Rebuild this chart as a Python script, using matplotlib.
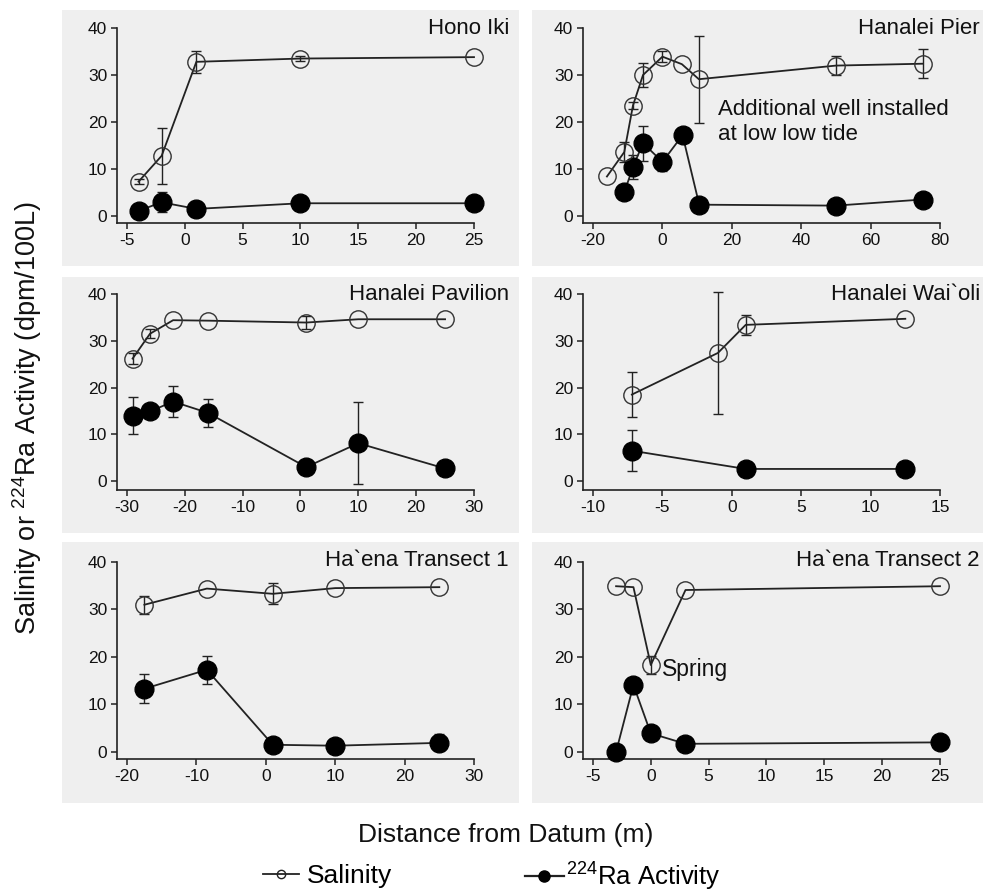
#!/usr/bin/env python
"""Salinity and 224Ra activity along six beach transects."""

import matplotlib

matplotlib.use("Agg")
import matplotlib.pyplot as plt
import numpy as np
from matplotlib.lines import Line2D
from matplotlib.patches import Rectangle

plt.rcParams["font.family"] = ["Liberation Sans", "DejaVu Sans"]
plt.rcParams["mathtext.fontset"] = "custom"
plt.rcParams["mathtext.rm"] = "Liberation Sans"
plt.rcParams["axes.unicode_minus"] = False

FIG_W, FIG_H = 993, 893

# per-site data: distance (m), salinity, 224Ra activity (dpm/100L) and error bars
SITES = ["Hono Iki", "Hanalei Pier", "Hanalei Pavilion",
         "Hanalei Wai`oli", "Ha`ena Transect 1", "Ha`ena Transect 2"]

hono_x = [-4, -2, 1, 10, 25]
hono_sal = [7.3, 12.8, 32.8, 33.5, 33.8]
hono_sal_err = [0.5, 6.0, 2.4, 0.5, 0]
hono_ra_x = [-4, -2, 1, 10, 25]
hono_ra = [1.1, 2.9, 1.5, 2.7, 2.7]
hono_ra_err = [0, 2.1, 1.7, 0, 0]

pier_x = [-16, -11, -8.5, -5.6, 0, 5.6, 10.5, 50, 75]
pier_sal = [8.4, 13.6, 23.5, 30.0, 33.9, 32.3, 29.1, 32.0, 32.4]
pier_sal_err = [0, 2.2, 0.8, 2.5, 1.2, 0, 9.3, 2.1, 3.1]
pier_ra_x = [-11, -8.5, -5.6, 0, 5.8, 10.6, 50, 75]
pier_ra = [5.0, 10.4, 15.5, 11.5, 17.2, 2.4, 2.2, 3.5]
pier_ra_err = [0, 2.6, 3.7, 2.0, 0, 1.3, 0, 0]

pav_x = [-29, -26, -22, -16, 1, 10, 25]
pav_sal = [26.2, 31.5, 34.4, 34.3, 33.9, 34.6, 34.6]
pav_sal_err = [1.2, 1.0, 0, 0, 1.3, 0, 0]
pav_ra_x = [-29, -26, -22, -16, 1, 10, 25]
pav_ra = [14.0, 14.9, 17.0, 14.6, 3.0, 8.1, 2.7]
pav_ra_err = [4.0, 1.0, 3.4, 3.0, 0, 8.8, 0]

wai_x = [-7.2, -1, 1, 12.5]
wai_sal = [18.5, 27.4, 33.4, 34.7]
wai_sal_err = [4.9, 13.0, 2.2, 0]
wai_ra_x = [-7.2, 1, 12.5]
wai_ra = [6.5, 2.6, 2.6]
wai_ra_err = [4.4, 0, 0]

t1_x = [-17.5, -8.5, 1, 10, 25]
t1_sal = [31.0, 34.4, 33.3, 34.5, 34.7]
t1_sal_err = [1.9, 0, 2.2, 0, 0]
t1_ra_x = [-17.5, -8.5, 1, 10, 25]
t1_ra = [13.3, 17.3, 1.5, 1.3, 1.9]
t1_ra_err = [3.1, 2.9, 0, 0, 1.8]

t2_x = [-3, -1.5, 0, 3, 25]
t2_sal = [34.9, 34.7, 18.3, 34.1, 34.9]
t2_sal_err = [0, 0, 1.8, 0, 0]
t2_ra_x = [-3, -1.5, 0, 3, 25]
t2_ra = [0.0, 14.1, 3.9, 1.7, 2.0]
t2_ra_err = [0, 0, 0, 0, 0]

X_TICKS = [
    [-5, 0, 5, 10, 15, 20, 25],
    [-20, 0, 20, 40, 60, 80],
    [-30, -20, -10, 0, 10, 20, 30],
    [-10, -5, 0, 5, 10, 15],
    [-20, -10, 0, 10, 20, 30],
    [-5, 0, 5, 10, 15, 20, 25],
]
X_LIMS = [(-5.86, 25), (-22.9, 80), (-31.7, 30), (-10.72, 15), (-21.45, 30), (-5.86, 25)]
Y_BOTTOM = [-1.5, -1.5, -1.9, -1.9, -1.5, -1.5]

SERIES = [
    (hono_x, hono_sal, hono_sal_err, hono_ra_x, hono_ra, hono_ra_err),
    (pier_x, pier_sal, pier_sal_err, pier_ra_x, pier_ra, pier_ra_err),
    (pav_x, pav_sal, pav_sal_err, pav_ra_x, pav_ra, pav_ra_err),
    (wai_x, wai_sal, wai_sal_err, wai_ra_x, wai_ra, wai_ra_err),
    (t1_x, t1_sal, t1_sal_err, t1_ra_x, t1_ra, t1_ra_err),
    (t2_x, t2_sal, t2_sal_err, t2_ra_x, t2_ra, t2_ra_err),
]

# layout in pixels
PANEL_COLS = [(62, 519), (532, 983)]
PANEL_ROWS = [(10, 266), (277, 533), (542, 803)]
AX_COLS = [(117, 474), (583, 940)]
AX_ROWS = [(28, 223), (294, 490), (562, 759)]
TITLE_INSET = [10, 3]


def fx(px):
    return px / FIG_W


def fy(py):
    return 1 - py / FIG_H


def draw_series(ax, x, y, err, filled):
    x = np.asarray(x, float)
    y = np.asarray(y, float)
    err = np.asarray(err, float)
    has = err > 0
    if has.any():
        ax.errorbar(x[has], y[has], yerr=err[has], fmt="none", ecolor="#222222",
                    elinewidth=1.0, capsize=3.5, capthick=1.0, zorder=2, clip_on=False)
    if filled:
        ax.plot(x, y, color="#222222", linewidth=1.3, marker="o", markersize=13.5,
                markerfacecolor="black", markeredgecolor="black", zorder=3, clip_on=False)
    else:
        ax.plot(x, y, color="#222222", linewidth=1.3, marker="o", markersize=12.5,
                markerfacecolor="none", markeredgecolor="#333333", markeredgewidth=1.0,
                zorder=3, clip_on=False)


def main():
    fig = plt.figure(figsize=(FIG_W / 100, FIG_H / 100), dpi=100)

    for i, site in enumerate(SITES):
        r, c = divmod(i, 2)
        px0, px1 = PANEL_COLS[c]
        py0, py1 = PANEL_ROWS[r]
        fig.patches.append(Rectangle((fx(px0), fy(py1)), fx(px1 - px0), (py1 - py0) / FIG_H,
                                     transform=fig.transFigure, facecolor="#efefef",
                                     edgecolor="none", zorder=-10))
        ax0, ax1 = AX_COLS[c]
        ay0, ay1 = AX_ROWS[r]
        ax = fig.add_axes([fx(ax0), fy(ay1), fx(ax1 - ax0), (ay1 - ay0) / FIG_H])
        ax.set_facecolor("none")

        sx, sy, se, rx, ry, re_ = SERIES[i]
        draw_series(ax, rx, ry, re_, filled=True)
        draw_series(ax, sx, sy, se, filled=False)

        ax.set_xlim(*X_LIMS[i])
        ax.set_ylim(Y_BOTTOM[i], 40)
        ax.set_xticks(X_TICKS[i])
        ax.set_yticks([0, 10, 20, 30, 40])
        for side in ("top", "right"):
            ax.spines[side].set_visible(False)
        for side in ("left", "bottom"):
            ax.spines[side].set_linewidth(1.2)
            ax.spines[side].set_color("#222222")
        ax.tick_params(direction="out", length=4, width=1.1, labelsize=12.5, pad=3,
                       color="#222222", labelcolor="#111111")

        fig.text(fx(px1 - TITLE_INSET[c]), fy(py0 + 18), site, ha="right", va="center",
                 fontsize=16, color="#111111")

        if site == "Hanalei Pier":
            ax.text(16, 20.1, "Additional well installed\nat low low tide", ha="left",
                    va="center", fontsize=16, color="#111111", linespacing=1.25)
        if site == "Ha`ena Transect 2":
            ax.text(1.0, 17.3, "Spring", ha="left", va="center", fontsize=16.5,
                    color="#111111")

    fig.text(fx(27), fy(418), "Salinity or $^{224}$Ra Activity (dpm/100L)", rotation=90,
             ha="center", va="center", fontsize=19.5, color="#111111")
    fig.text(fx(506), fy(835), "Distance from Datum (m)", ha="center", va="center",
             fontsize=19, color="#111111")

    sal_handle = Line2D([], [], color="#222222", linewidth=1.3, marker="o", markersize=6,
                        markerfacecolor="none", markeredgecolor="#222222")
    ra_handle = Line2D([], [], color="#222222", linewidth=1.6, marker="o", markersize=8,
                       markerfacecolor="black", markeredgecolor="black")
    fig.legend([sal_handle], ["Salinity"], loc="center left",
               bbox_to_anchor=(fx(263), fy(876)), frameon=False, fontsize=19,
               handlelength=1.35, handletextpad=0.3, borderpad=0, borderaxespad=0)
    fig.legend([ra_handle], ["$^{224}$Ra Activity"], loc="center left",
               bbox_to_anchor=(fx(525), fy(876)), frameon=False, fontsize=18.5,
               handlelength=1.5, handletextpad=0.1, borderpad=0, borderaxespad=0)

    fig.savefig("out.png", dpi=100)
    plt.close(fig)


if __name__ == "__main__":
    main()
